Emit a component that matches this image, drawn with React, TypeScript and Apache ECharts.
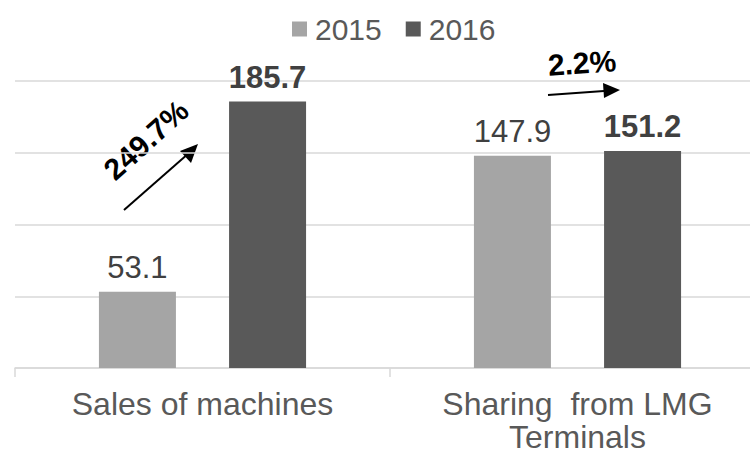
import React, { useEffect, useRef } from "react";
import * as echarts from "echarts";

const categories = ["Sales of machines", "Sharing  from LMG\nTerminals"];
const seriesNames = ["2015", "2016"];
const values2015 = [53.1, 147.9];
const values2016 = [185.7, 151.2];
const growthLabels = ["249.7%", "2.2%"];
const yTicks = { min: 0, max: 200, interval: 50 };

const FONT = "'Liberation Sans', Arial, sans-serif";

export default function App() {
  const ref = useRef<HTMLDivElement>(null);
  useEffect(() => {
    document.body.style.margin = "0";
    if (!ref.current) return;
    const chart = echarts.init(ref.current, null, { renderer: "svg" });
    const arrowStyle = { stroke: "#000", lineWidth: 2 };
    chart.setOption({
      animation: false,
      backgroundColor: "#ffffff",
      textStyle: { fontFamily: FONT },
      legend: {
        data: seriesNames,
        left: 287,
        top: 9,
        itemWidth: 15,
        itemHeight: 15,
        itemGap: 24,
        icon: "rect",
        textStyle: { fontSize: 30, color: "#595959", fontFamily: FONT, padding: [0, 0, 0, 3] },
      },
      grid: {
        left: 15,
        top: 81,
        height: 287,
        width: 750,
        containLabel: false,
        outerBoundsMode: "none",
      },
      xAxis: {
        type: "category",
        data: categories,
        boundaryGap: true,
        axisLine: { lineStyle: { color: "#d9d9d9", width: 1.5 } },
        axisTick: { show: true, length: 9, lineStyle: { color: "#d9d9d9", width: 1.5 } },
        axisLabel: {
          interval: 0,
          fontSize: 32,
          lineHeight: 33,
          color: "#595959",
          margin: 19,
          fontFamily: FONT,
        },
      },
      yAxis: {
        type: "value",
        min: yTicks.min,
        max: yTicks.max,
        interval: yTicks.interval,
        axisLine: { show: false },
        axisTick: { show: false },
        axisLabel: { show: false },
        splitLine: { lineStyle: { color: "#d9d9d9", width: 1.5 } },
      },
      series: [
        {
          name: seriesNames[0],
          type: "bar",
          data: values2015,
          barWidth: 77,
          barGap: "69%",
          itemStyle: { color: "#a5a5a5" },
          label: {
            show: true,
            position: "top",
            distance: 9,
            fontSize: 31,
            color: "#404040",
            fontFamily: FONT,
          },
        },
        {
          name: seriesNames[1],
          type: "bar",
          data: values2016,
          barWidth: 77,
          barGap: "69%",
          itemStyle: { color: "#595959" },
          label: {
            show: true,
            position: "top",
            distance: 9,
            fontSize: 31,
            fontWeight: "bold",
            color: "#404040",
            fontFamily: FONT,
          },
        },
      ],
      graphic: [
        {
          type: "line",
          shape: { x1: 124, y1: 210, x2: 189, y2: 153 },
          style: arrowStyle,
        },
        {
          type: "polygon",
          shape: { points: [[198, 144], [180, 151], [191, 163]] },
          style: { fill: "#000" },
        },
        {
          type: "text",
          x: 146,
          y: 140,
          rotation: (42 * Math.PI) / 180,
          style: {
            text: growthLabels[0],
            fontSize: 30,
            fontWeight: "bold",
            fill: "#000",
            fontFamily: FONT,
            align: "center",
            verticalAlign: "middle",
          },
        },
        {
          type: "line",
          shape: { x1: 548, y1: 95, x2: 604, y2: 91 },
          style: arrowStyle,
        },
        {
          type: "polygon",
          shape: { points: [[620, 90], [603, 83], [604, 98]] },
          style: { fill: "#000" },
        },
        {
          type: "text",
          x: 582,
          y: 63,
          rotation: (4 * Math.PI) / 180,
          style: {
            text: growthLabels[1],
            fontSize: 30,
            fontWeight: "bold",
            fill: "#000",
            fontFamily: FONT,
            align: "center",
            verticalAlign: "middle",
          },
        },
      ],
    });
    return () => chart.dispose();
  }, []);
  return <div ref={ref} style={{ width: 750, height: 455 }} />;
}
